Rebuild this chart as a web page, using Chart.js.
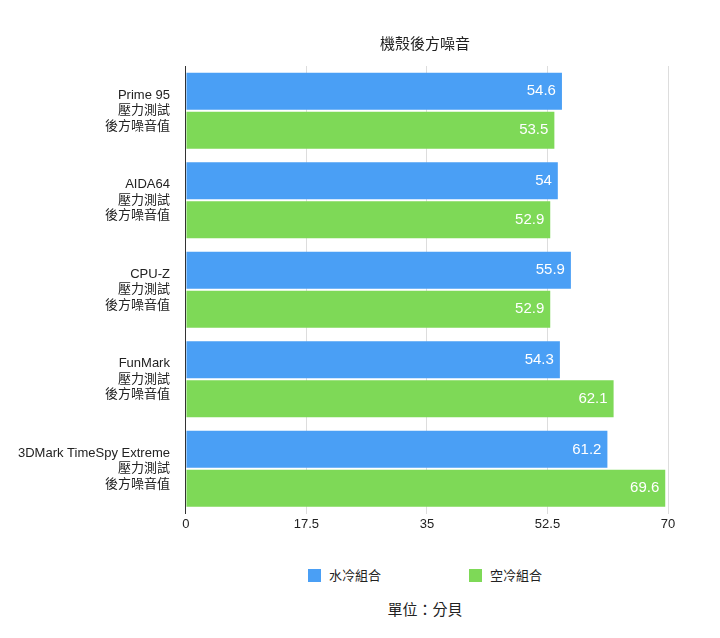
<!DOCTYPE html>
<html><head><meta charset="utf-8">
<script src="https://cdn.jsdelivr.net/npm/chart.js@4/dist/chart.umd.min.js"></script>
<style>body{margin:0;background:#fff;font-family:"Liberation Sans","Noto Sans CJK TC",sans-serif;color:#222}
.t{position:absolute;left:130px;width:590px;text-align:center}
#ti{top:32px;font-size:15px}
#u{top:598px;font-size:15px}
#lg{top:565px;font-size:13px}
#lg span{display:inline-block;margin:0 44px}
#lg i{display:inline-block;width:13px;height:13px;vertical-align:-2px;margin-right:8px}
</style>
</head><body>
<div style="position:relative;width:720px;height:545px"><canvas id="c"></canvas></div>
<div class="t" id="ti">機殼後方噪音</div>
<div class="t" id="lg"><span><i style="background:#4a9ff5"></i>水冷組合</span><span><i style="background:#7ed957"></i>空冷組合</span></div>
<div class="t" id="u">單位：分貝</div>
<script>
const categories=[["Prime 95","壓力測試","後方噪音值"],["AIDA64","壓力測試","後方噪音值"],["CPU-Z","壓力測試","後方噪音值"],["FunMark","壓力測試","後方噪音值"],["3DMark TimeSpy Extreme","壓力測試","後方噪音值"]];
const water=[54.6,54,55.9,54.3,61.2];
const air=[53.5,52.9,52.9,62.1,69.6];
const ticks=[0,17.5,35,52.5,70];
const F='"Liberation Sans","Noto Sans CJK TC", sans-serif';
const labels={id:'lbl',afterDatasetsDraw(ch){const x=ch.ctx;x.save();x.font='15px '+F;x.fillStyle='#fff';x.textAlign='right';x.textBaseline='middle';
ch.data.datasets.forEach((d,i)=>ch.getDatasetMeta(i).data.forEach((b,j)=>x.fillText(String(d.data[j]),b.x-6,b.y)));x.restore();}};
new Chart(document.getElementById('c'),{type:'bar',
data:{labels:categories,datasets:[
{label:'水冷組合',data:water,backgroundColor:'#4a9ff5'},
{label:'空冷組合',data:air,backgroundColor:'#7ed957'}]},
options:{indexAxis:'y',responsive:true,maintainAspectRatio:false,animation:false,
layout:{padding:{left:10,right:52,top:66}},
categoryPercentage:0.87,barPercentage:0.95,
scales:{x:{min:0,max:70,afterBuildTicks(a){a.ticks=ticks.map(v=>({value:v}));},
ticks:{color:'#222',font:{size:13,family:F}},grid:{color:'#ddd',drawTicks:false},border:{display:false}},
y:{ticks:{color:'#222',font:{size:13,family:F},padding:8},grid:{display:false},border:{color:'#333'}}},
plugins:{legend:{display:false},tooltip:{enabled:false}}},
plugins:[labels]});
</script></body></html>
